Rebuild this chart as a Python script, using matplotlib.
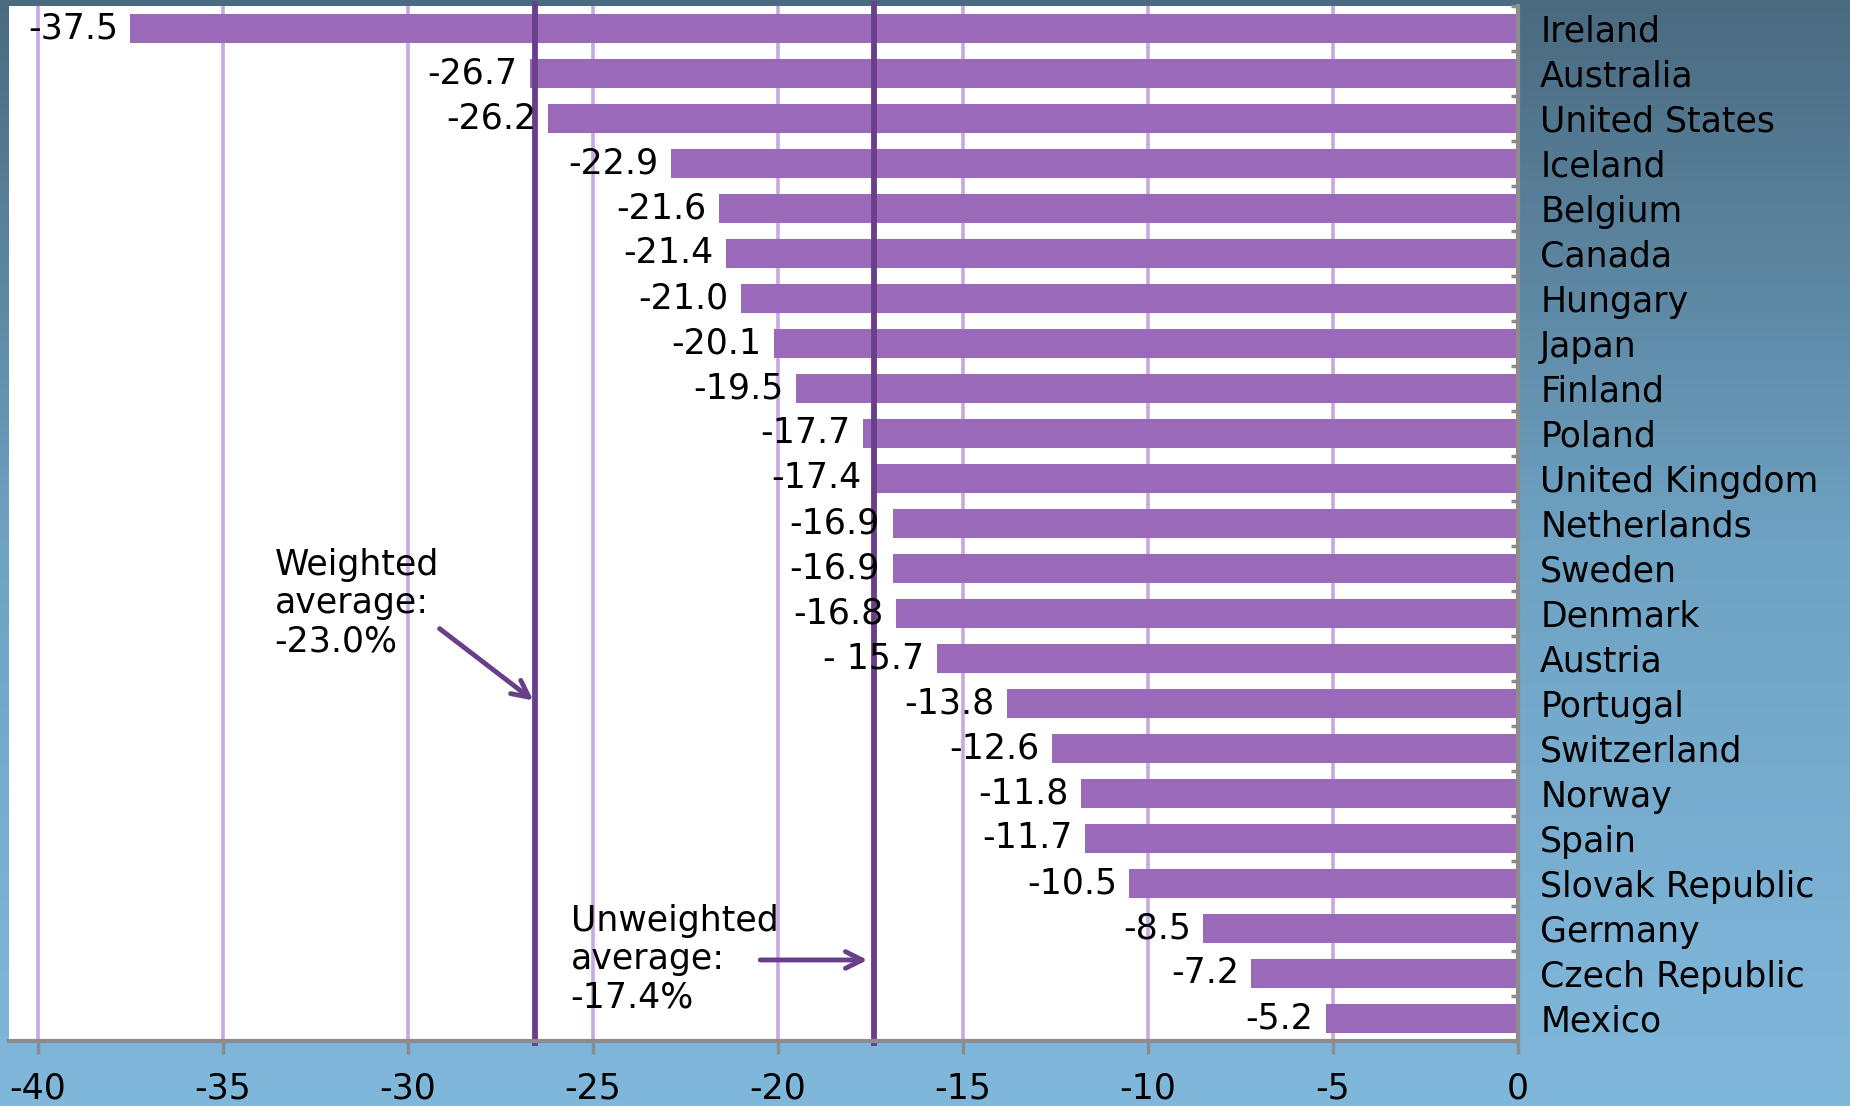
import numpy as np
import matplotlib
matplotlib.use("Agg")
import matplotlib.pyplot as plt
from matplotlib.colors import LinearSegmentedColormap

countries = ["Ireland", "Australia", "United States", "Iceland", "Belgium", "Canada",
             "Hungary", "Japan", "Finland", "Poland", "United Kingdom", "Netherlands",
             "Sweden", "Denmark", "Austria", "Portugal", "Switzerland", "Norway",
             "Spain", "Slovak Republic", "Germany", "Czech Republic", "Mexico"]
values = [-37.5, -26.7, -26.2, -22.9, -21.6, -21.4, -21.0, -20.1, -19.5, -17.7,
          -17.4, -16.9, -16.9, -16.8, -15.7, -13.8, -12.6, -11.8, -11.7, -10.5,
          -8.5, -7.2, -5.2]
weighted_line = -26.55
unweighted_line = -17.4
xticks = [-40, -35, -30, -25, -20, -15, -10, -5, 0]

plt.rcParams['font.family'] = ['DejaVu Sans']
FS = 25

BAR = '#9b69b9'
GRID = '#c8a8e0'
DARK = '#6a3f8a'
SPINE = '#8c8c8c'

fig = plt.figure(figsize=(18.5, 11.06), dpi=100)

# background gradient behind everything
bg = fig.add_axes([0, 0, 1, 1], zorder=-10)
cmap = LinearSegmentedColormap.from_list('bg', ['#4a6a80', '#6fa3c4', '#80b8dc'])
bg.imshow(np.linspace(0, 1, 256).reshape(-1, 1), aspect='auto', cmap=cmap,
          extent=[0, 1, 0, 1])
bg.axis('off')

ax = fig.add_axes([0.005, 0.0588, 0.8155, 0.9358])
ax.set_facecolor('white')

y = np.arange(len(countries))
ax.barh(y, values, height=0.66, color=BAR, zorder=2)

for v, yy in zip(values, y):
    txt = f"{v:.1f}"
    if v == -15.7:
        txt = "- 15.7"
    ax.annotate(txt, (v, yy), xytext=(-9, 0), textcoords='offset points',
                ha='right', va='center', fontsize=FS, color='black', zorder=4)

ax.set_xlim(-40.77, 0)
ax.set_ylim(22.5, -0.5)

# grid lines
for t in xticks[:-1]:
    ax.axvline(t, color=GRID, lw=2.6, zorder=1)

# average lines
for xl in (weighted_line, unweighted_line):
    ax.plot([xl, xl], [-0.62, 22.62], color=DARK, lw=4.2, zorder=3,
            clip_on=False, solid_capstyle='butt')

# annotations
ax.text(-33.6, 12.77, "Weighted\naverage:\n-23.0%", fontsize=FS, ha='left',
        va='center', linespacing=1.15, zorder=4)
ax.annotate("", xy=(weighted_line, 14.97), xytext=(-29.2, 13.3),
            arrowprops=dict(arrowstyle='->', color=DARK, lw=3.5,
                            mutation_scale=30), zorder=4)
ax.text(-25.6, 20.68, "Unweighted\naverage:\n-17.4%", fontsize=FS, ha='left',
        va='center', linespacing=1.15, zorder=4)
ax.annotate("", xy=(unweighted_line - 0.1, 20.7), xytext=(-20.55, 20.7),
            arrowprops=dict(arrowstyle='->', color=DARK, lw=3.5,
                            mutation_scale=30), zorder=4)

# axes styling
for s in ('left', 'top'):
    ax.spines[s].set_visible(False)
for s in ('right', 'bottom'):
    ax.spines[s].set_color(SPINE)
    ax.spines[s].set_linewidth(3)
    ax.spines[s].set_zorder(5)

ax.set_xticks(xticks)
ax.set_xticklabels([str(t) for t in xticks], fontsize=FS)
ax.tick_params(axis='x', direction='out', length=9, width=2.5, color=SPINE,
               pad=13)

ax.yaxis.tick_right()
ax.set_yticks(y)
ax.set_yticklabels(countries, fontsize=FS)
ax.set_yticks(np.arange(-0.5, len(countries), 1.0), minor=True)
ax.tick_params(axis='y', which='major', length=0, pad=16)
ax.tick_params(axis='y', which='minor', direction='in', length=5, width=2.5,
               color=SPINE)

fig.savefig('out.png', dpi=100)
